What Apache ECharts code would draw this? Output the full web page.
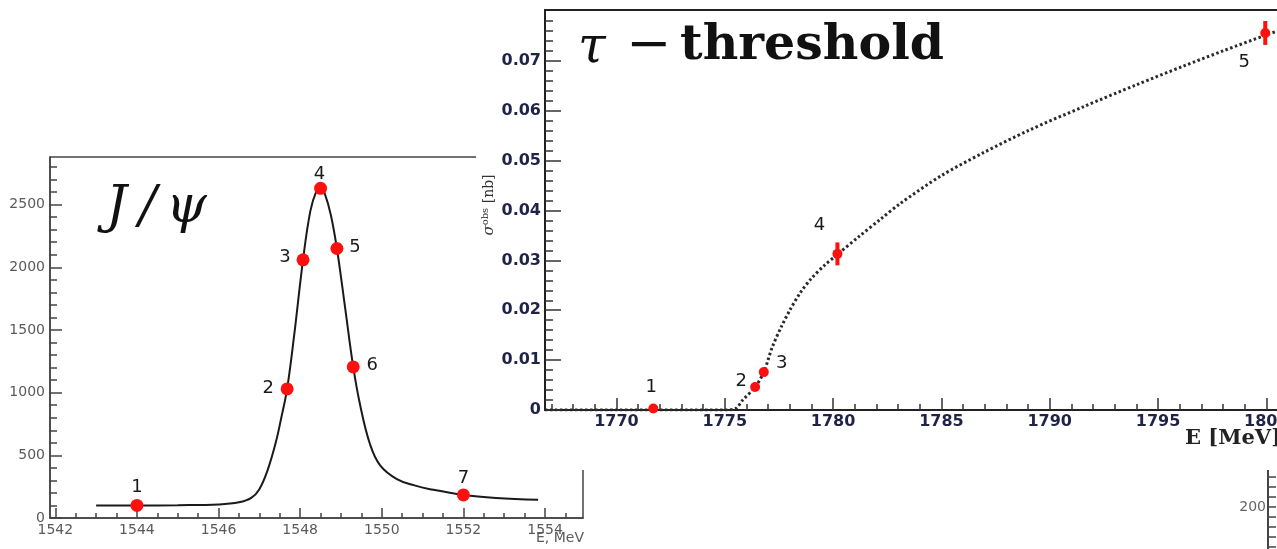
<!DOCTYPE html>
<html>
<head>
<meta charset="utf-8">
<script src="https://cdn.jsdelivr.net/npm/echarts@6/dist/echarts.min.js"></script>
<style>
  html, body { margin: 0; padding: 0; background: #fff; }
  #wrap { position: relative; width: 1277px; height: 549px; overflow: hidden; }
  #jpsi { position: absolute; left: 0; top: 0; width: 1277px; height: 549px; }
  #tau { position: absolute; left: 476px; top: 0; width: 801px; height: 470px; background: #fff; }
  #frag { position: absolute; left: 1200px; top: 470px; width: 77px; height: 79px; }
</style>
</head>
<body>
<div id="wrap">
  <div id="jpsi"></div>
  <div id="tau"></div>
  <div id="frag"></div>
</div>
<script>
// J/psi scan points and fitted curve
const jpsiPointE = [1544.0, 1547.68, 1548.07, 1548.5, 1548.9, 1549.3, 1552.0];
const jpsiPointN = [100, 1030, 2060, 2630, 2150, 1205, 184];
const jpsiPointNames = ['1', '2', '3', '4', '5', '6', '7'];
const jpsiCurveE = [1543.0, 1544.0, 1545.0, 1546.0, 1546.5, 1546.8, 1547.0, 1547.2, 1547.4, 1547.55,
  1547.68, 1547.85, 1548.07, 1548.25, 1548.4, 1548.5, 1548.6, 1548.75, 1548.9, 1549.1,
  1549.3, 1549.47, 1549.71, 1549.96, 1550.37, 1550.8, 1551.18, 1552.0, 1552.8, 1553.83];
const jpsiCurveN = [100, 100, 102, 108, 125, 160, 230, 380, 600, 820,
  1030, 1450, 2060, 2450, 2610, 2640, 2590, 2420, 2150, 1680,
  1205, 900, 590, 420, 310, 260, 230, 184, 160, 145];
const jpsiTicksE = [1542, 1544, 1546, 1548, 1550, 1552, 1554];
const jpsiTicksN = [0, 500, 1000, 1500, 2000, 2500];

// tau threshold points and curve
const tauPointE = [1771.7, 1776.4, 1776.8, 1780.2, 1799.95];
const tauPointSigma = [0.0003, 0.0046, 0.0076, 0.0313, 0.0756];
const tauPointErr = [0, 0, 0, 0.0023, 0.0024];
const tauPointNames = ['1', '2', '3', '4', '5'];
const tauCurveE = [1766.7, 1770, 1775, 1775.5, 1775.83, 1776.4, 1776.8, 1777.2, 1777.6, 1778.0,
  1778.5, 1779.0, 1779.6, 1780.2, 1781.2, 1782.2, 1783.1, 1785.0, 1786.9, 1789.0,
  1791.55, 1794.0, 1796.2, 1798.0, 1800.0, 1801.0];
const tauCurveSigma = [0, 0, 0, 0.0003, 0.002, 0.0046, 0.0076, 0.0127, 0.0166, 0.0200,
  0.0236, 0.0264, 0.0290, 0.0312, 0.0348, 0.0383, 0.0414, 0.047, 0.0515, 0.056,
  0.0608, 0.0652, 0.069, 0.072, 0.0752, 0.0767];
const tauTicksE = [1770, 1775, 1780, 1785, 1790, 1795, 1800];
const tauTicksSigma = [0, 0.01, 0.02, 0.03, 0.04, 0.05, 0.06, 0.07];

// third panel fragment (bottom right corner)
const fragTicks = [200];

// minor tick positions
function minorTicks(from, to, step, majors) {
  const out = [];
  const n = Math.round((to - from) / step);
  for (let i = 0; i <= n; i++) {
    const v = Math.round((from + i * step) * 10000) / 10000;
    if (!majors.some((m) => Math.abs(m - v) < step / 10)) out.push(v);
  }
  return out;
}

const plain = (v) => String(v);
const jpsiLabelOffset = [[0, -18], [-19, -1], [-18, -2], [-1, -14], [18, -1], [19, -2], [0, -17]];
const tauLabelOffset = [[-2, -21], [-14, -6], [18, -9], [-18, -29], [-21, 29]];

const RED = '#ff1010';
const numFont = { fontFamily: 'DejaVu Sans', fontSize: 18, color: '#1a1a1a' };

// ---------- left: J/psi ----------
const jpsi = echarts.init(document.getElementById('jpsi'));
jpsi.setOption({
  animation: false,
  grid: { left: 50, top: 157, width: 533, height: 361, show: true, borderColor: '#444', borderWidth: 1.5, outerBoundsMode: 'none' },
  xAxis: [
    {
      type: 'value', min: 1541.87, max: 1554.93, position: 'bottom',
      axisLine: { show: true, onZero: false, lineStyle: { color: '#444', width: 1.5 } },
      axisTick: { inside: true, length: 10, customValues: jpsiTicksE, lineStyle: { color: '#444', width: 1.5 } },
      axisLabel: { customValues: jpsiTicksE, formatter: plain, color: '#5a5a5a', fontSize: 14, fontFamily: 'DejaVu Sans', margin: 5 },
      splitLine: { show: false }
    },
    {
      type: 'value', min: 1541.87, max: 1554.93, position: 'bottom',
      axisLine: { show: false },
      axisTick: { inside: true, length: 5, customValues: minorTicks(1542, 1554.5, 0.5, jpsiTicksE), lineStyle: { color: '#444', width: 1.5 } },
      axisLabel: { show: false },
      splitLine: { show: false }
    }
  ],
  yAxis: [
    {
      type: 'value', min: 0, max: 2880, position: 'left',
      axisLine: { show: true, lineStyle: { color: '#444', width: 1.5 } },
      axisTick: { inside: true, length: 12, customValues: jpsiTicksN, lineStyle: { color: '#444', width: 1.5 } },
      axisLabel: { customValues: jpsiTicksN, formatter: plain, color: '#5a5a5a', fontSize: 14, fontFamily: 'DejaVu Sans', margin: 5 },
      splitLine: { show: false }
    },
    {
      type: 'value', min: 0, max: 2880, position: 'left',
      axisLine: { show: false },
      axisTick: { inside: true, length: 7, customValues: minorTicks(100, 2800, 100, jpsiTicksN), lineStyle: { color: '#444', width: 1.5 } },
      axisLabel: { show: false },
      splitLine: { show: false }
    }
  ],
  graphic: [
    { type: 'text', left: 106, top: 182, style: { text: 'J', font: 'italic 52px "DejaVu Serif"', fill: '#111' } },
    { type: 'text', left: 139, top: 182, style: { text: '/', font: 'italic 52px "DejaVu Serif"', fill: '#111' } },
    { type: 'text', left: 166, top: 182, style: { text: 'ψ', font: 'italic 52px "DejaVu Serif"', fill: '#111' } },
    { type: 'text', right: 1277 - 584, top: 531, style: { text: 'E, MeV', font: '14px "DejaVu Sans"', fill: '#5a5a5a' } }
  ],
  series: [
    {
      type: 'line', xAxisIndex: 0, yAxisIndex: 0,
      data: jpsiCurveE.map((e, i) => [e, jpsiCurveN[i]]),
      smooth: 0.4, showSymbol: false, silent: true,
      lineStyle: { color: '#1a1a1a', width: 2 }
    },
    {
      type: 'scatter', xAxisIndex: 0, yAxisIndex: 0, symbolSize: 13, z: 5,
      itemStyle: { color: RED, opacity: 1 },
      data: jpsiPointE.map((e, i) => ({
        value: [e, jpsiPointN[i]],
        label: { show: true, position: 'inside', offset: jpsiLabelOffset[i], formatter: jpsiPointNames[i], ...numFont }
      }))
    }
  ]
});

// ---------- right: tau threshold ----------
const tau = echarts.init(document.getElementById('tau'));
tau.setOption({
  animation: false,
  grid: { left: 69, top: 10, width: 743, height: 400, show: true, borderColor: '#222', borderWidth: 2, outerBoundsMode: 'none' },
  xAxis: [
    {
      type: 'value', min: 1766.7, max: 1801, position: 'bottom',
      axisLine: { show: true, onZero: false, lineStyle: { color: '#222', width: 2 } },
      axisTick: { inside: true, length: 12, customValues: tauTicksE, lineStyle: { color: '#333', width: 1.5 } },
      axisLabel: { customValues: tauTicksE, formatter: plain, color: '#1f2347', fontSize: 16, fontWeight: 'bold', fontFamily: 'DejaVu Sans', margin: 4 },
      splitLine: { show: false }
    },
    {
      type: 'value', min: 1766.7, max: 1801, position: 'bottom',
      axisLine: { show: false },
      axisTick: { inside: true, length: 6, customValues: minorTicks(1767, 1801, 1, tauTicksE), lineStyle: { color: '#333', width: 1.5 } },
      axisLabel: { show: false },
      splitLine: { show: false }
    }
  ],
  yAxis: [
    {
      type: 'value', min: 0, max: 0.0802, position: 'left',
      axisLine: { show: true, lineStyle: { color: '#222', width: 2 } },
      axisTick: { inside: true, length: 16, customValues: tauTicksSigma, lineStyle: { color: '#333', width: 1.5 } },
      axisLabel: { customValues: tauTicksSigma, formatter: plain, color: '#1f2347', fontSize: 16, fontWeight: 'bold', fontFamily: 'DejaVu Sans', margin: 4 },
      splitLine: { show: false }
    },
    {
      type: 'value', min: 0, max: 0.0802, position: 'left',
      axisLine: { show: false },
      axisTick: { inside: true, length: 8, customValues: minorTicks(0.002, 0.078, 0.002, tauTicksSigma), lineStyle: { color: '#333', width: 1.5 } },
      axisLabel: { show: false },
      splitLine: { show: false }
    }
  ],
  graphic: [
    { type: 'text', left: 102, top: 24, style: { text: 'τ', font: 'italic 50px "DejaVu Serif"', fill: '#111' } },
    { type: 'text', left: 150, top: 20, style: { text: '−', font: '54px "DejaVu Serif"', fill: '#111' } },
    { type: 'text', left: 204, top: 22, style: { text: 'threshold', font: 'bold 49px "DejaVu Serif"', fill: '#111' } },
    { type: 'text', left: 709, top: 428, style: { text: 'E [MeV]', font: 'bold 21px "DejaVu Serif"', fill: '#222' } },
    {
      type: 'text', x: 13, y: 205, rotation: Math.PI / 2,
      style: {
        text: '{s|σ}{sup|obs}{n| [nb]}', align: 'center', verticalAlign: 'middle',
        rich: {
          s: { font: 'italic 15px "DejaVu Serif"', fill: '#333' },
          sup: { font: '10px "DejaVu Serif"', fill: '#333', verticalAlign: 'top', lineHeight: 18 },
          n: { font: '14px "DejaVu Serif"', fill: '#333' }
        }
      }
    }
  ],
  series: [
    {
      type: 'line', xAxisIndex: 0, yAxisIndex: 0,
      data: tauCurveE.map((e, i) => [e, tauCurveSigma[i]]),
      smooth: 0.3, showSymbol: false, silent: true,
      lineStyle: { color: '#2a2a2a', width: 3, type: [2.5, 2.5] }
    },
    {
      type: 'custom', xAxisIndex: 0, yAxisIndex: 0, z: 4,
      data: tauPointE.map((e, i) => [e, tauPointSigma[i], tauPointErr[i]]),
      renderItem(params, api) {
        const x = api.value(0), y = api.value(1), err = api.value(2);
        if (!err) return null;
        const p0 = api.coord([x, y - err]);
        const p1 = api.coord([x, y + err]);
        return {
          type: 'line',
          shape: { x1: p0[0], y1: p0[1], x2: p1[0], y2: p1[1] },
          style: { stroke: RED, lineWidth: 4 }
        };
      }
    },
    {
      type: 'scatter', xAxisIndex: 0, yAxisIndex: 0, symbolSize: 10, z: 5,
      itemStyle: { color: RED, opacity: 1 },
      data: tauPointE.map((e, i) => ({
        value: [e, tauPointSigma[i]],
        label: { show: true, position: 'inside', offset: tauLabelOffset[i], formatter: tauPointNames[i], ...numFont }
      }))
    }
  ]
});

// ---------- fragment of a third panel ----------
const frag = echarts.init(document.getElementById('frag'));
frag.setOption({
  animation: false,
  grid: { left: 68, top: 0, width: 40, height: 137, outerBoundsMode: 'none' },
  xAxis: { type: 'value', min: 0, max: 1, show: false },
  yAxis: {
    type: 'value', min: 100, max: 237, position: 'left',
    axisLine: { show: true, lineStyle: { color: '#444', width: 2 } },
    axisTick: { inside: true, length: 8, customValues: minorTicks(110, 230, 10, []), lineStyle: { color: '#444', width: 1.5 } },
    axisLabel: { customValues: fragTicks, formatter: plain, color: '#666', fontSize: 14, fontFamily: 'DejaVu Sans', margin: 2 },
    splitLine: { show: false }
  },
  series: []
});
</script>
</body>
</html>
